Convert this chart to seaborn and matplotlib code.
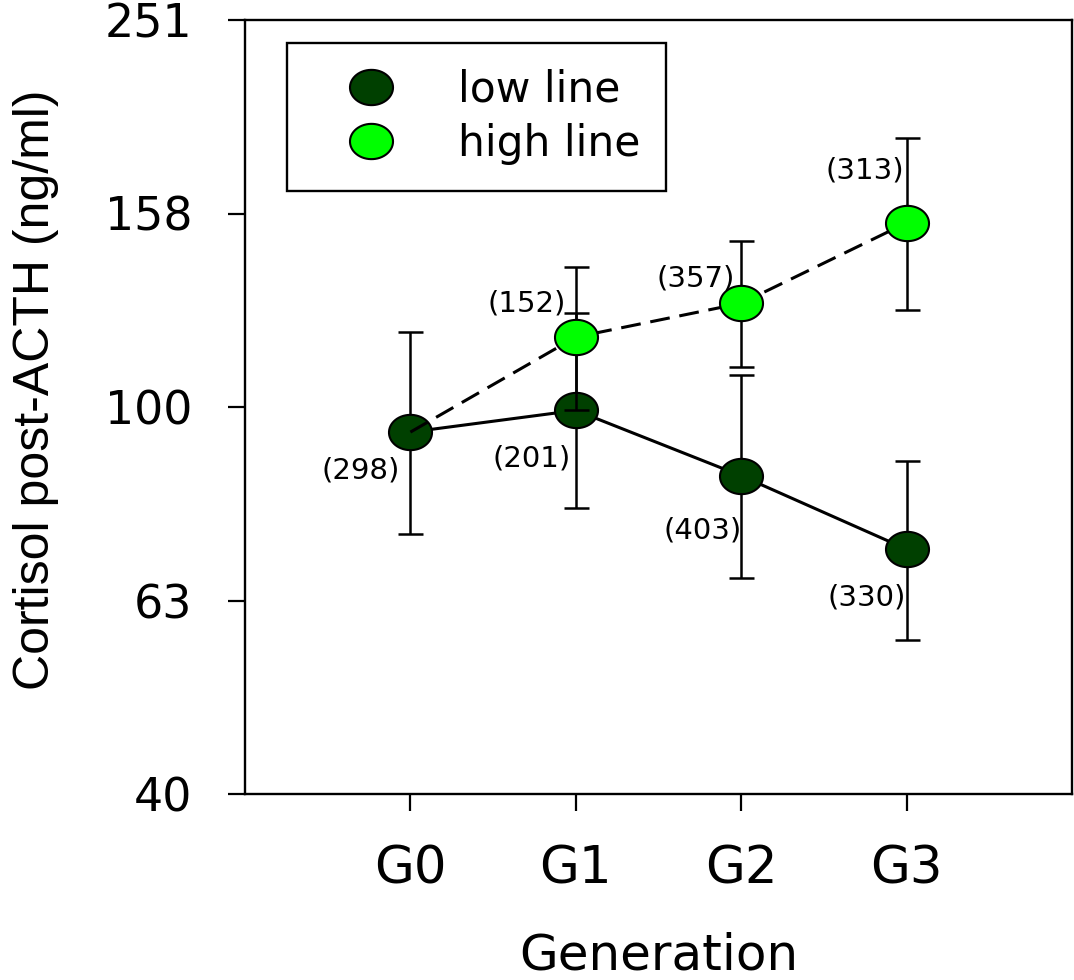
import numpy as np
import pandas as pd
import matplotlib
matplotlib.use("Agg")
import matplotlib.pyplot as plt
from matplotlib.path import Path
from matplotlib.lines import Line2D
import seaborn as sns

# ---------------- data ----------------
generations = ["G0", "G1", "G2", "G3"]

low_mean = [94.2, 99.2, 84.9, 71.3]
low_lower = [73.9, 78.6, 66.5, 57.4]
low_upper = [119.4, 125.2, 108.0, 88.0]
low_n = [298, 201, 403, 330]

high_mean = [94.2, 118.1, 128.0, 155.0]
high_lower = [None, 99.3, 110.1, 126.0]
high_upper = [None, 139.6, 148.5, 189.9]
high_n = [None, 152, 357, 313]

y_ticks = [40, 63, 100, 158, 251]
y_tick_values = [10 ** 1.6, 10 ** 1.8, 10 ** 2.0, 10 ** 2.2, 10 ** 2.4]

# ---------------- styling ----------------
sns.set_theme(style="ticks")
plt.rcParams["font.family"] = ["DejaVu Sans"]
plt.rcParams["text.color"] = "black"
plt.rcParams["axes.labelcolor"] = "black"
plt.rcParams["xtick.color"] = "black"
plt.rcParams["ytick.color"] = "black"

W, H = 1074, 980
fig = plt.figure(figsize=(W / 100, H / 100), dpi=100)
ax = fig.add_axes([245 / W, 1 - 794 / H, (1072 - 245) / W, 774 / H])

dark = "#004000"
bright = "#00ff00"

# elliptical marker (slightly wider than tall)
t = np.linspace(0, 2 * np.pi, 60)
ell = Path(np.column_stack([np.cos(t), 0.82 * np.sin(t)]), closed=True)
MS = 31
MEW = 1.5
ELW = 1.8

x = np.arange(len(generations))
df_low = pd.DataFrame({"x": x, "y": low_mean})
df_high = pd.DataFrame({"x": x, "y": high_mean})

# low line error bars
lm = np.array(low_mean)
ax.errorbar(x, lm, yerr=[lm - np.array(low_lower), np.array(low_upper) - lm],
            fmt="none", ecolor="black", elinewidth=ELW, capsize=9, capthick=ELW,
            zorder=2)
sns.lineplot(data=df_low, x="x", y="y", ax=ax, color="black", lw=2.2,
             marker=ell, markersize=MS, markerfacecolor=dark,
             markeredgecolor="black", markeredgewidth=MEW, zorder=3,
             legend=False, estimator=None, sort=False)

# high line error bars (G1..G3)
hx = x[1:]
hm = np.array(high_mean[1:])
ax.errorbar(hx, hm, yerr=[hm - np.array(high_lower[1:]), np.array(high_upper[1:]) - hm],
            fmt="none", ecolor="black", elinewidth=ELW, capsize=9, capthick=ELW,
            zorder=4)
sns.lineplot(data=df_high, x="x", y="y", ax=ax, color="black", lw=2.2,
             linestyle=(0, (6.5, 3.2)), legend=False, estimator=None, sort=False,
             zorder=5)
sns.scatterplot(data=df_high.iloc[1:], x="x", y="y", ax=ax, marker=ell,
                s=MS ** 2, color=bright, edgecolor="black", linewidth=MEW,
                zorder=6, legend=False)

# sample size annotations
low_off = [(-50, -38), (-44, -48), (-39, -55), (-40, -48)]
high_off = [None, (-49, 34), (-46, 25), (-42, 52)]
for i in range(len(generations)):
    ax.annotate(f"({low_n[i]})", (x[i], low_mean[i]), xytext=low_off[i],
                textcoords="offset pixels", ha="center", va="center",
                fontsize=21, zorder=7)
    if high_n[i] is not None:
        ax.annotate(f"({high_n[i]})", (x[i], high_mean[i]), xytext=high_off[i],
                    textcoords="offset pixels", ha="center", va="center",
                    fontsize=21, zorder=7)

# axes
ax.set_yscale("log")
ax.set_ylim(10 ** 1.6, 10 ** 2.4)
ax.set_xlim(-1, 4)
ax.set_yticks(y_tick_values)
ax.set_yticklabels([str(v) for v in y_ticks])
ax.yaxis.set_minor_locator(matplotlib.ticker.NullLocator())
ax.set_xticks(x)
ax.set_xticklabels(generations)
ax.tick_params(axis="y", labelsize=33, length=12, width=1.6, direction="out",
               pad=26, colors="black")
ax.tick_params(axis="x", labelsize=37, length=12, width=1.6, direction="out",
               pad=24, colors="black")
for sp in ax.spines.values():
    sp.set_visible(True)
    sp.set_color("black")
    sp.set_linewidth(1.7)
ax.grid(False)
ax.set_facecolor("white")

ax.set_ylabel("Cortisol post-ACTH (ng/ml)", fontsize=36,
              family=["Liberation Sans", "DejaVu Sans"], va="center")
ax.yaxis.set_label_coords((36 - 245) / 827, 1 - (390 - 20) / 774)
ax.set_xlabel("Generation", fontsize=36, va="center")
ax.xaxis.set_label_coords((659 - 245) / 827, (794 - 955) / 774)

# legend
handles = [
    Line2D([], [], linestyle="none", marker=ell, markersize=MS,
           markerfacecolor=dark, markeredgecolor="black", markeredgewidth=MEW),
    Line2D([], [], linestyle="none", marker=ell, markersize=MS,
           markerfacecolor=bright, markeredgecolor="black", markeredgewidth=MEW),
]
leg = ax.legend(handles, ["low line", "high line"], loc="upper left",
                bbox_to_anchor=(287 / W, 1 - 43 / H), bbox_transform=fig.transFigure,
                borderaxespad=0, fontsize=30.5, frameon=True, fancybox=False,
                framealpha=1, edgecolor="black", borderpad=0.6,
                labelspacing=0.3, handlelength=2.75, handletextpad=0.68)
leg.get_frame().set_linewidth(1.7)
leg.set_zorder(10)

fig.savefig("out.png", dpi=100, facecolor="white")
